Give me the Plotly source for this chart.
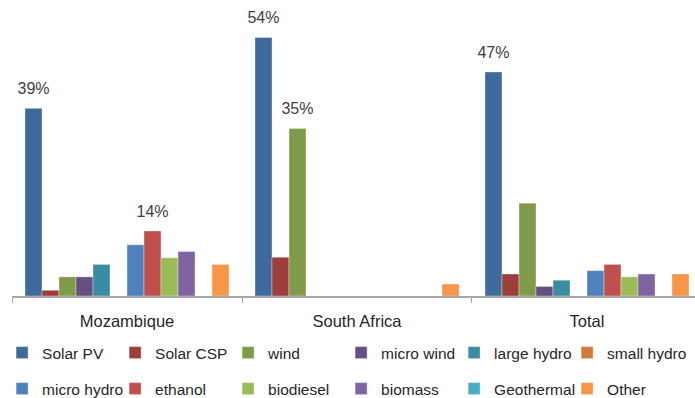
import plotly.graph_objects as go

categories = ["Mozambique", "South Africa", "Total"]

series_names = ["Solar PV", "Solar CSP", "wind", "micro wind", "large hydro", "small hydro",
                "micro hydro", "ethanol", "biodiesel", "biomass", "Geothermal", "Other"]

solar_pv = [39.2, 54.0, 46.8]
solar_csp = [1.2, 8.1, 4.6]
wind = [4.0, 35.0, 19.4]
micro_wind = [4.0, 0, 2.0]
large_hydro = [6.6, 0, 3.3]
small_hydro = [0, 0, 0]
micro_hydro = [10.7, 0, 5.3]
ethanol = [13.6, 0, 6.6]
biodiesel = [8.0, 0, 4.0]
biomass = [9.3, 0, 4.6]
geothermal = [0, 0, 0]
other = [6.6, 2.5, 4.6]

solar_pv_labels = ["39%", "54%", "47%"]
wind_labels = ["", "35%", ""]
ethanol_labels = ["14%", "", ""]

values = [solar_pv, solar_csp, wind, micro_wind, large_hydro, small_hydro,
          micro_hydro, ethanol, biodiesel, biomass, geothermal, other]
labels = {"Solar PV": solar_pv_labels, "wind": wind_labels, "ethanol": ethanol_labels}

colors = ["#3F6A9C", "#9E3E3B", "#7F9A48", "#664F82", "#3A8CA2", "#CF7B3A",
          "#4F81BD", "#C0504D", "#9BBB59", "#8064A2", "#4BACC6", "#F79646"]

FONT = "Liberation Sans"
GAP = 0.113

fig = go.Figure()
for i, (name, vals) in enumerate(zip(series_names, values)):
    fig.add_trace(go.Bar(
        x=categories, y=vals, name=name, offsetgroup=str(i),
        marker=dict(color=colors[i], line=dict(width=0.6, color="rgba(255,255,255,0.6)")),
        legend="legend" if i == 0 else f"legend{i + 1}",
    ))

# data labels, aligned with the grouped bars through matching offset groups
for i, (name, vals) in enumerate(zip(series_names, values)):
    txt = labels.get(name, [""] * len(categories))
    fig.add_trace(go.Scatter(
        x=categories, y=vals, offsetgroup=str(i), mode="markers+text",
        marker=dict(size=15, opacity=0), text=txt, textposition="top center",
        textfont=dict(family=FONT, size=16, color="#404040"),
        showlegend=False, hoverinfo="skip", cliponaxis=False,
    ))

# legend grid: 6 columns x 2 rows below the plot (paper coordinates)
legend_layout = {}
for i in range(len(series_names)):
    col, row = i % 6, i // 6
    key = "legend" if i == 0 else f"legend{i + 1}"
    legend_layout[key] = dict(
        x=-0.0145 + col * 0.16545, y=-0.198 - row * 0.125,
        xanchor="left", yanchor="middle", orientation="h",
        font=dict(family=FONT, size=15.5, color="#262626"), itemclick=False,
        bgcolor="rgba(0,0,0,0)",
    )

fig.update_layout(
    width=695, height=398,
    margin=dict(l=12, r=0, t=8, b=102, autoexpand=False),
    paper_bgcolor="white", plot_bgcolor="white",
    barmode="group", bargap=GAP, bargroupgap=0,
    scattermode="group", scattergap=GAP,
    font=dict(family=FONT, color="#404040"),
    xaxis=dict(range=[-0.5, 2.4696], showline=True, linecolor="#A6A6A6", linewidth=1.5,
               ticks="outside", tickson="boundaries", ticklen=5, tickcolor="#A6A6A6",
               tickfont=dict(family=FONT, size=16.5, color="#262626"),
               ticklabelstandoff=9, showgrid=False, zeroline=False),
    yaxis=dict(range=[0, 60.16], visible=False, showgrid=False, zeroline=False),
    **legend_layout,
)

fig.write_html("out.html")
